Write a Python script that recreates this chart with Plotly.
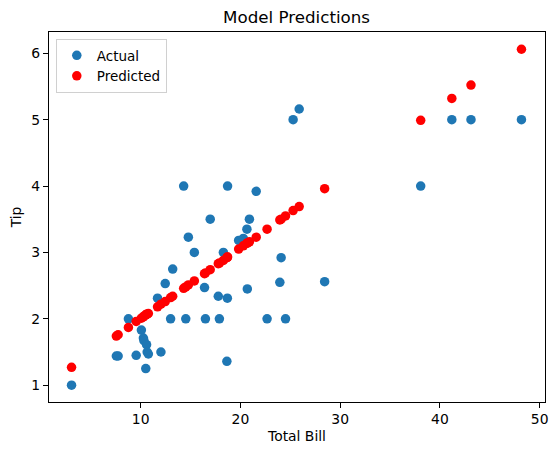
import plotly.graph_objects as go

# test-set bills with actual and predicted tips
total_bill = [3.07, 7.56, 7.74, 8.77, 9.55, 10.07, 10.27, 10.33, 10.59, 10.65,
              10.77, 10.51, 12.03, 11.69, 12.46, 13.21, 13.00, 14.31, 14.52, 14.78,
              15.38, 16.40, 16.49, 16.97, 17.78, 17.89, 18.29, 18.71, 18.69, 18.64,
              19.82, 20.29, 20.65, 20.90, 20.69, 21.58, 22.67, 23.95, 24.08, 24.52,
              25.28, 25.89, 28.44, 38.07, 41.19, 43.11, 48.17]
actual_tip = [1.00, 1.44, 1.44, 2.00, 1.45, 1.83, 1.71, 1.67, 1.61, 1.50,
              1.47, 1.25, 1.50, 2.31, 2.53, 2.75, 2.00, 4.00, 2.00, 3.23,
              3.00, 2.47, 2.00, 3.50, 2.34, 2.00, 3.00, 4.00, 2.31, 1.36,
              3.18, 3.21, 3.35, 3.50, 2.45, 3.92, 2.00, 2.55, 2.92, 2.00,
              5.00, 5.16, 2.56, 4.00, 5.00, 5.00, 5.00]
predicted_tip = [1.27, 1.74, 1.76, 1.87, 1.96, 2.01, 2.03, 2.04, 2.07, 2.07,
                 2.08, 2.06, 2.22, 2.18, 2.26, 2.34, 2.32, 2.46, 2.48, 2.51,
                 2.57, 2.68, 2.69, 2.74, 2.83, 2.84, 2.88, 2.93, 2.93, 2.92,
                 3.05, 3.10, 3.14, 3.16, 3.14, 3.23, 3.35, 3.49, 3.50, 3.55,
                 3.63, 3.69, 3.96, 4.99, 5.32, 5.52, 6.06]

font = dict(family="DejaVu Sans", size=13.9, color="black")

actual_trace = go.Scatter(
    x=total_bill,
    y=actual_tip,
    mode="markers",
    name="Actual",
    marker=dict(size=9.5, color="#1f77b4"),
)

predicted_trace = go.Scatter(
    x=total_bill,
    y=predicted_tip,
    mode="markers",
    name="Predicted",
    marker=dict(size=9.5, color="red"),
)

axis_style = dict(
    showgrid=False,
    zeroline=False,
    showline=True,
    mirror=True,
    linecolor="black",
    linewidth=1.1,
    ticks="outside",
    ticklen=5,
    tickwidth=1.1,
    tickcolor="black",
    tickfont=font,
)

fig = go.Figure(data=[actual_trace, predicted_trace])

# the page body adds an 8px offset, so the figure is 8px smaller
fig.update_layout(
    width=550,
    height=447,
    margin=dict(l=40.5, r=13.3, t=24.3, b=52.7, autoexpand=False),
    paper_bgcolor="white",
    plot_bgcolor="white",
    font=font,
    title=dict(
        text="Model Predictions",
        x=0.5247, xanchor="center",
        y=1 - 9 / 447, yanchor="middle",
        yref="container",
        font=dict(family="DejaVu Sans", size=16.7, color="black"),
    ),
    xaxis=dict(
        axis_style,
        range=[0.81, 50.53],
        tickvals=[10, 20, 30, 40, 50],
        ticklabelstandoff=-1,
        title=dict(text="Total Bill", font=font, standoff=5),
    ),
    yaxis=dict(
        axis_style,
        range=[0.747, 6.32],
        tickvals=[1, 2, 3, 4, 5, 6],
        title=dict(text="Tip", font=font, standoff=8),
    ),
    legend=dict(
        x=0.0137, y=0.981,
        xanchor="left", yanchor="top",
        bordercolor="#d0d0d0",
        borderwidth=1,
        bgcolor="rgba(255,255,255,0.8)",
        font=dict(family="DejaVu Sans", size=13.5, color="black"),
    ),
    showlegend=True,
)

fig.write_html("out.html")
